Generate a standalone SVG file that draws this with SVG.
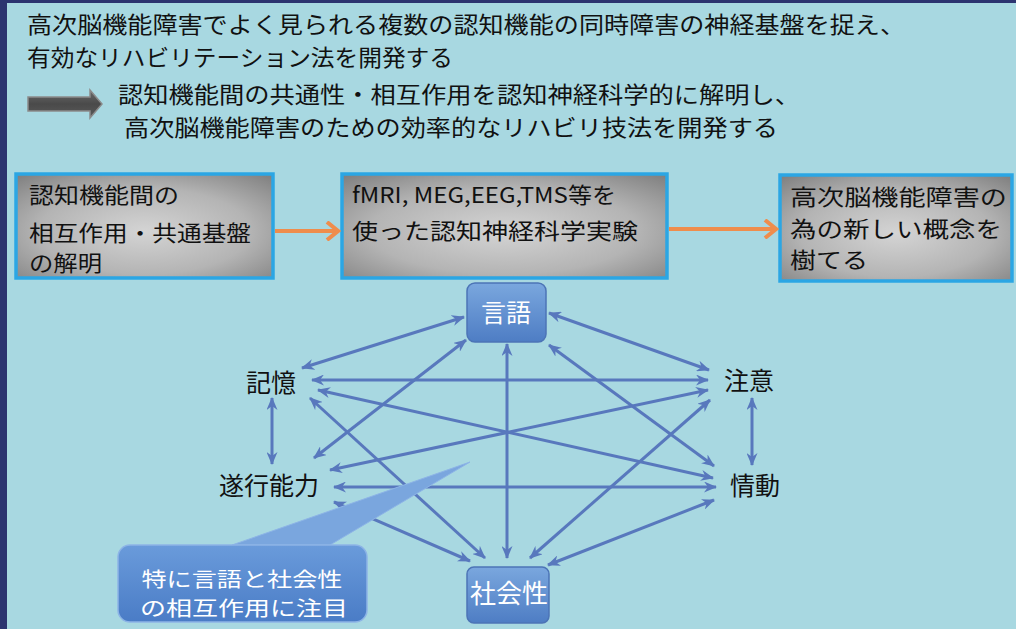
<svg xmlns="http://www.w3.org/2000/svg" width="1016" height="629" viewBox="0 0 1016 629">
<style>
.t{font-family:"Noto Sans CJK JP","Noto Sans",sans-serif;fill:#111;}
.h{font-size:22.5px;}
.bx{font-size:22px;}
.nd{font-size:25px;}
.w{fill:#ffffff;}
.box{fill:url(#metal);stroke:#2ba6e4;stroke-width:3.5;}
.con{stroke:#5878bd;stroke-width:3;fill:none;marker-start:url(#ah);marker-end:url(#ah);}
.org{stroke:#ef8d4c;stroke-width:4;fill:none;marker-end:url(#oh);}
.bnode{fill:url(#blue);stroke:#4c74b6;stroke-width:1.5;}
</style>
<defs>
<radialGradient id="metal" cx="50%" cy="55%" r="75%">
<stop offset="0" stop-color="#d4d4d4"/>
<stop offset="0.55" stop-color="#b4b4b4"/>
<stop offset="1" stop-color="#7c7c7c"/>
</radialGradient>
<linearGradient id="blue" x1="0" y1="0" x2="0" y2="1">
<stop offset="0" stop-color="#7aa7de"/>
<stop offset="1" stop-color="#4e7dc4"/>
</linearGradient>
<linearGradient id="callg" x1="0" y1="0" x2="0" y2="1">
<stop offset="0" stop-color="#6a9bdb"/>
<stop offset="1" stop-color="#4a7cc6"/>
</linearGradient>
<linearGradient id="garrow" x1="0" y1="0" x2="0" y2="1">
<stop offset="0" stop-color="#6a6a6a"/>
<stop offset="0.5" stop-color="#4a4a4a"/>
<stop offset="1" stop-color="#5a5a5a"/>
</linearGradient>
<marker id="ah" markerUnits="userSpaceOnUse" markerWidth="13" markerHeight="11" refX="12" refY="5.5" orient="auto-start-reverse" viewBox="0 0 13 11">
<path d="M0,0 L13,5.5 L0,11 L4,5.5 z" fill="#5878bd"/>
</marker>
<marker id="oh" markerUnits="userSpaceOnUse" markerWidth="16" markerHeight="20" refX="13" refY="10" orient="auto" viewBox="0 0 16 20">
<path d="M2,1 L13,10 L2,19" fill="none" stroke="#ef8d4c" stroke-width="4"/>
</marker>
</defs>
<rect x="0" y="0" width="1016" height="629" fill="#a8d8e1"/>
<rect x="0" y="0" width="7" height="629" fill="#2c3470"/>
<rect x="0" y="0" width="1016" height="3" fill="#2c3470"/>

<g id="header">
<text class="t h" x="27" y="33" textLength="878" lengthAdjust="spacingAndGlyphs">高次脳機能障害でよく見られる複数の認知機能の同時障害の神経基盤を捉え、</text>
<text class="t h" x="27" y="66" textLength="426" lengthAdjust="spacingAndGlyphs">有効なリハビリテーション法を開発する</text>
<polygon points="28,97 90,97 90,90 102,104 90,118 90,111 28,111" fill="url(#garrow)" stroke="#8a8a8a" stroke-width="1.5"/>
<text class="t h" x="118" y="103" textLength="682" lengthAdjust="spacingAndGlyphs">認知機能間の共通性・相互作用を認知神経科学的に解明し、</text>
<text class="t h" x="124" y="136" textLength="654" lengthAdjust="spacingAndGlyphs">高次脳機能障害のための効率的なリハビリ技法を開発する</text>
</g>

<g id="box-1">
<rect class="box" x="16" y="174" width="257" height="104"/>
<text class="t bx" x="29" y="203" textLength="150" lengthAdjust="spacingAndGlyphs">認知機能間の</text>
<text class="t bx" x="29" y="241" textLength="222" lengthAdjust="spacingAndGlyphs">相互作用・共通基盤</text>
<text class="t bx" x="29" y="271" textLength="73" lengthAdjust="spacingAndGlyphs">の解明</text>
</g>
<g id="box-2">
<rect class="box" x="342" y="174" width="325" height="104"/>
<text class="t bx" x="352" y="203" textLength="264" lengthAdjust="spacingAndGlyphs">fMRI, MEG,EEG,TMS等を</text>
<text class="t bx" x="352" y="239" textLength="286" lengthAdjust="spacingAndGlyphs">使った認知神経科学実験</text>
</g>
<g id="box-3">
<rect class="box" x="780" y="175" width="232" height="106"/>
<text class="t bx" x="790" y="205" textLength="217" lengthAdjust="spacingAndGlyphs">高次脳機能障害の</text>
<text class="t bx" x="790" y="237" textLength="212" lengthAdjust="spacingAndGlyphs">為の新しい概念を</text>
<text class="t bx" x="790" y="268" textLength="78" lengthAdjust="spacingAndGlyphs">樹てる</text>
</g>

<g id="connectors">
<line class="org" x1="275" y1="231" x2="338" y2="231"/>
<line class="org" x1="669" y1="229" x2="776" y2="229"/>
<line class="con" x1="464" y1="317" x2="302" y2="368"/>
<line class="con" x1="466" y1="340" x2="314" y2="458"/>
<line class="con" x1="507" y1="344" x2="507" y2="558"/>
<line class="con" x1="549" y1="313" x2="709" y2="370"/>
<line class="con" x1="549" y1="345" x2="714" y2="466"/>
<line class="con" x1="312" y1="380" x2="708" y2="380"/>
<line class="con" x1="318" y1="390" x2="713" y2="478"/>
<line class="con" x1="310" y1="398" x2="485" y2="558"/>
<line class="con" x1="330" y1="470" x2="708" y2="390"/>
<line class="con" x1="334" y1="487" x2="716" y2="487"/>
<line class="con" x1="334" y1="502" x2="470" y2="561"/>
<line class="con" x1="530" y1="558" x2="710" y2="400"/>
<line class="con" x1="548" y1="565" x2="714" y2="500"/>
<line class="con" x1="272" y1="398" x2="272" y2="464"/>
<line class="con" x1="752" y1="398" x2="752" y2="465"/>
</g>

<g id="node-gengo">
<rect class="bnode" x="467" y="283" width="79" height="59" rx="8"/>
<text class="t nd w" x="506" y="322" text-anchor="middle">言語</text>
</g>
<g id="node-shakaisei">
<rect class="bnode" x="467" y="567" width="82" height="56" rx="7"/>
<text class="t w" style="font-size:26px" x="509" y="603" text-anchor="middle">社会性</text>
</g>
<g id="node-kioku">
<text class="t nd" x="271" y="392" text-anchor="middle">記憶</text>
</g>
<g id="node-suikou">
<text class="t nd" x="269" y="495" text-anchor="middle">遂行能力</text>
</g>
<g id="node-chui">
<text class="t nd" x="749" y="390" text-anchor="middle">注意</text>
</g>
<g id="node-joudou">
<text class="t nd" x="755" y="495" text-anchor="middle">情動</text>
</g>

<g id="callout">
<path d="M232,545 L470,462 L330,545 z" fill="#7aa6de" stroke="#8db4e6" stroke-width="1"/>
<rect x="118" y="545" width="249" height="77" rx="12" fill="url(#callg)" stroke="#8db4e6" stroke-width="1.5"/>
<text class="t w" style="font-size:20px" x="242" y="587" text-anchor="middle" textLength="201" lengthAdjust="spacingAndGlyphs">特に言語と社会性</text>
<text class="t w" style="font-size:20px" x="244" y="616" text-anchor="middle" textLength="208" lengthAdjust="spacingAndGlyphs">の相互作用に注目</text>
</g>
</svg>
